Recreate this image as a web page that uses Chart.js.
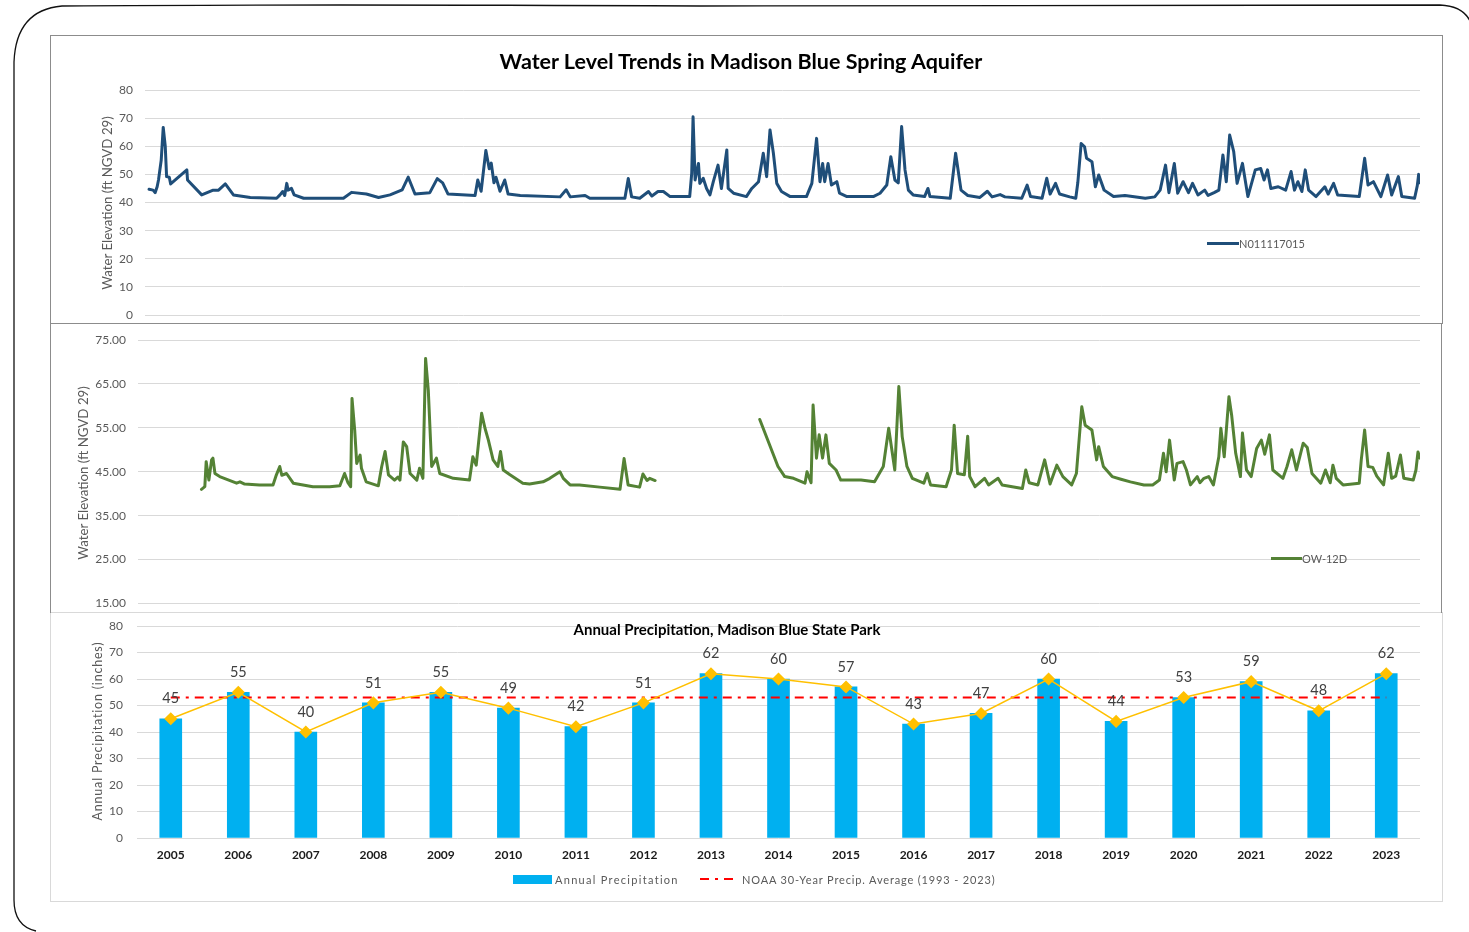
<!DOCTYPE html>
<html>
<head>
<meta charset="utf-8">
<script src="https://cdn.jsdelivr.net/npm/chart.js@4.4.1/dist/chart.umd.min.js"></script>
<style>
  html,body{margin:0;padding:0;background:#fff;}
  body{width:1469px;height:932px;position:relative;overflow:hidden;font-family:Lato,"Open Sans",sans-serif;}
  canvas{position:absolute;}
  .border{position:absolute;box-sizing:border-box;pointer-events:none;}
  .txt{position:absolute;white-space:nowrap;}
  .ytitle{position:absolute;white-space:nowrap;color:#595959;transform:translate(-50%,-50%) rotate(-90deg);}
  .leg{position:absolute;display:flex;align-items:center;font-size:11px;color:#595959;white-space:nowrap;}
</style>
</head>
<body>
<svg width="1469" height="932" style="position:absolute;left:0;top:0;">
  <path d="M 36 931 Q 14 926 14 900 L 14 62 Q 16 10 62 6 Q 300 4 700 6 Q 1100 7 1440 5 Q 1466 6 1472 26" fill="none" stroke="#111" stroke-width="1.3"/>
</svg>

<canvas id="c3" width="1392" height="289" style="left:50px;top:612px;"></canvas>
<canvas id="c2" width="1392" height="289" style="left:50px;top:323px;"></canvas>
<canvas id="c1" width="1392" height="288" style="left:50px;top:35px;"></canvas>

<div class="border" style="left:50px;top:612px;width:1393px;height:290px;border:1px solid #d9d9d9;"></div>
<div class="border" style="left:50px;top:323px;width:1392px;height:290px;border:1px solid #8c8c8c;border-bottom:none;"></div>
<div class="border" style="left:50px;top:35px;width:1393px;height:289px;border:1px solid #8c8c8c;"></div>

<div class="txt" style="left:741px;top:61px;transform:translate(-50%,-50%);font-weight:bold;font-size:21.5px;color:#000;">Water Level Trends in Madison Blue Spring Aquifer</div>
<div class="txt" style="left:727px;top:629px;transform:translate(-50%,-50%);font-weight:bold;font-size:15px;color:#000;">Annual Precipitation, Madison Blue State Park</div>

<div class="ytitle" style="left:107px;top:203px;font-size:13.3px;">Water Elevation (ft NGVD 29)</div>
<div class="ytitle" style="left:83px;top:473px;font-size:13.3px;">Water Elevation (ft NGVD 29)</div>
<div class="ytitle" style="left:97px;top:731px;font-size:12.5px;letter-spacing:0.8px;">Annual Precipitation (inches)</div>

<div class="leg" style="left:1207px;top:235px;height:16px;"><span style="display:inline-block;width:32px;height:3px;background:#1F4E79;"></span><span>N011117015</span></div>
<div class="leg" style="left:1271px;top:550px;height:16px;"><span style="display:inline-block;width:31px;height:3px;background:#548235;"></span><span>OW-12D</span></div>
<div class="leg" style="left:513px;top:871px;height:16px;letter-spacing:1.3px;"><span style="display:inline-block;width:39px;height:9px;background:#00B0F0;margin-right:3px;"></span><span>Annual Precipitation</span></div>
<div class="leg" style="left:700px;top:871px;height:16px;letter-spacing:0.85px;"><svg width="36" height="4" style="margin-right:6px;"><line x1="0" y1="2" x2="36" y2="2" stroke="#FF0000" stroke-width="2" stroke-dasharray="9,6,3,6"/></svg><span>NOAA 30-Year Precip. Average (1993 - 2023)</span></div>

<script>
// ---------- Data: well N011117015 (decimal year, ft NGVD 29) ----------
const n011117015Dates = [2005.21,2005.27,2005.30,2005.33,2005.35,2005.39,2005.42,2005.45,2005.47,2005.51,2005.53,2005.77,2005.78,2005.99,2006.16,2006.24,2006.34,2006.46,2006.71,2007.10,2007.15,2007.19,2007.22,2007.25,2007.27,2007.32,2007.36,2007.50,2008.09,2008.21,2008.43,2008.61,2008.78,2008.96,2009.05,2009.15,2009.37,2009.48,2009.56,2009.64,2010.04,2010.08,2010.13,2010.20,2010.25,2010.28,2010.32,2010.35,2010.41,2010.48,2010.53,2010.71,2011.30,2011.39,2011.45,2011.67,2011.74,2012.26,2012.31,2012.36,2012.48,2012.61,2012.66,2012.75,2012.83,2012.93,2013.22,2013.25,2013.27,2013.30,2013.35,2013.37,2013.42,2013.47,2013.52,2013.57,2013.64,2013.69,2013.77,2013.79,2013.87,2014.06,2014.14,2014.24,2014.31,2014.36,2014.41,2014.46,2014.51,2014.58,2014.71,2014.95,2015.03,2015.10,2015.15,2015.19,2015.22,2015.27,2015.32,2015.40,2015.44,2015.55,2015.94,2016.04,2016.14,2016.20,2016.26,2016.31,2016.36,2016.41,2016.46,2016.53,2016.70,2016.75,2016.78,2017.08,2017.16,2017.24,2017.34,2017.52,2017.63,2017.70,2017.82,2017.89,2018.14,2018.22,2018.27,2018.44,2018.51,2018.56,2018.64,2018.70,2018.85,2018.94,2018.97,2019.02,2019.07,2019.10,2019.18,2019.23,2019.28,2019.36,2019.50,2019.67,2019.97,2020.11,2020.19,2020.27,2020.32,2020.40,2020.45,2020.53,2020.61,2020.67,2020.75,2020.85,2020.90,2020.99,2021.06,2021.12,2021.17,2021.22,2021.28,2021.33,2021.41,2021.49,2021.60,2021.68,2021.73,2021.78,2021.83,2021.94,2022.05,2022.13,2022.18,2022.23,2022.29,2022.34,2022.39,2022.50,2022.63,2022.68,2022.76,2022.82,2023.14,2023.22,2023.27,2023.35,2023.46,2023.56,2023.62,2023.72,2023.77,2023.96,2024.00,2024.02,2024.04];
const n011117015Levels = [44.7,44.4,43.5,45.6,48.0,55.0,66.7,60.0,49.2,49.0,46.6,51.6,48.0,42.7,44.4,44.4,46.6,42.7,41.8,41.5,42.7,43.9,42.5,46.8,44.4,45.0,42.7,41.5,41.5,43.6,43.0,41.8,42.7,44.5,49.0,43.0,43.5,48.5,47.0,43.0,42.5,48.0,44.0,58.5,52.0,54.0,47.0,49.0,44.0,48.0,43.0,42.5,42.0,44.5,42.0,42.5,41.5,41.5,48.5,42.0,41.5,43.9,42.3,43.9,43.9,42.1,42.1,50.4,70.5,48.0,53.9,46.8,48.6,45.0,42.7,47.4,53.3,45.0,58.7,45.0,43.3,42.1,45.0,47.4,57.5,49.2,65.8,57.5,46.8,43.9,42.1,42.1,46.8,62.8,47.4,53.9,47.4,53.9,46.2,47.4,43.3,42.1,42.1,43.3,46.2,56.3,48.0,47.0,67.0,51.6,44.4,42.7,42.1,45.0,42.1,41.5,57.5,44.4,42.5,41.8,44.0,42.0,42.8,42.0,41.5,46.2,42.1,41.5,48.6,43.0,46.8,43.0,42.0,41.5,47.0,61.0,59.8,55.7,54.5,45.6,49.8,44.4,42.1,42.5,41.5,42.0,44.4,53.3,43.5,53.9,43.3,47.4,43.5,46.8,42.7,44.4,42.5,43.5,44.4,56.9,47.4,64.0,58.1,46.8,53.9,42.1,51.6,52.1,48.0,51.6,45.0,45.6,44.4,51.0,44.4,47.4,43.9,51.6,44.4,42.1,45.6,43.0,46.8,42.7,42.1,55.7,46.2,47.4,42.1,49.8,42.7,49.2,42.1,41.5,46.0,50.0,47.0];

// ---------- Data: well OW-12D (decimal year, ft NGVD 29); null = no record ----------
const ow12dDates = [2005.99,2006.04,2006.06,2006.10,2006.14,2006.16,2006.19,2006.26,2006.51,2006.56,2006.63,2006.85,2007.05,2007.10,2007.15,2007.18,2007.25,2007.35,2007.64,2007.89,2008.04,2008.11,2008.16,2008.20,2008.22,2008.26,2008.29,2008.34,2008.36,2008.43,2008.61,2008.66,2008.71,2008.76,2008.85,2008.90,2008.93,2008.98,2009.03,2009.08,2009.18,2009.22,2009.27,2009.31,2009.35,2009.40,2009.47,2009.52,2009.72,2009.96,2010.01,2010.06,2010.14,2010.19,2010.24,2010.31,2010.38,2010.42,2010.46,2010.56,2010.75,2010.85,2011.05,2011.15,2011.30,2011.35,2011.45,2011.59,2011.89,2012.19,2012.25,2012.31,2012.48,2012.53,2012.59,2012.63,2012.71,2013.00,2014.26,2014.53,2014.63,2014.76,2014.93,2014.96,2015.02,2015.05,2015.10,2015.14,2015.19,2015.24,2015.29,2015.39,2015.46,2015.76,2015.96,2016.09,2016.17,2016.26,2016.32,2016.37,2016.44,2016.52,2016.69,2016.74,2016.79,2017.02,2017.10,2017.14,2017.19,2017.29,2017.34,2017.37,2017.45,2017.59,2017.65,2017.79,2017.85,2018.15,2018.20,2018.25,2018.38,2018.48,2018.56,2018.66,2018.75,2018.88,2018.95,2019.03,2019.08,2019.18,2019.25,2019.28,2019.35,2019.48,2019.61,2019.75,2019.95,2020.08,2020.18,2020.24,2020.28,2020.33,2020.40,2020.44,2020.53,2020.58,2020.64,2020.74,2020.78,2020.84,2020.91,2020.98,2021.06,2021.09,2021.14,2021.21,2021.25,2021.31,2021.38,2021.41,2021.47,2021.54,2021.62,2021.69,2021.74,2021.81,2021.86,2022.01,2022.07,2022.14,2022.21,2022.31,2022.37,2022.44,2022.57,2022.64,2022.71,2022.75,2022.80,2022.90,2023.14,2023.17,2023.22,2023.27,2023.34,2023.40,2023.50,2023.57,2023.62,2023.68,2023.75,2023.80,2023.94,2023.98,2024.01,2024.04];
const ow12dLevels = [41.0,41.6,47.3,43.1,47.7,48.1,44.6,43.9,42.4,42.7,42.2,42.0,42.0,44.3,46.2,44.2,44.6,42.4,41.6,41.6,41.8,44.6,42.5,41.6,61.7,54.5,46.9,48.8,45.8,42.7,41.8,46.2,49.6,44.3,43.1,43.8,43.1,51.8,50.7,44.6,43.1,45.8,43.5,70.8,63.6,46.2,48.1,44.6,43.5,43.1,48.4,46.5,58.3,54.9,52.2,47.7,46.2,49.6,45.4,44.3,42.4,42.2,42.7,43.5,45.0,43.5,42.0,42.0,41.5,41.0,48.0,42.0,41.5,44.5,43.0,43.5,43.0,null,56.9,46.2,43.9,43.5,42.4,45.0,42.5,60.2,48.1,53.4,48.1,53.4,46.9,45.4,43.1,43.1,42.7,46.2,54.9,45.4,64.4,53.0,46.2,43.5,42.4,44.6,42.0,41.6,45.4,55.6,44.6,44.3,53.1,43.9,41.6,43.5,42.0,43.5,42.0,41.2,45.4,42.5,42.0,47.7,42.2,46.5,43.9,42.0,44.6,59.8,55.6,54.5,47.7,50.7,46.2,43.9,43.3,42.7,42.0,42.0,43.1,49.2,45.0,52.2,43.1,46.9,47.3,45.4,42.0,43.9,42.5,43.5,43.9,42.0,48.4,54.9,48.4,62.1,57.9,49.2,43.9,53.8,45.4,43.9,50.3,52.2,49.0,53.4,45.4,43.5,46.2,50.0,45.4,51.5,50.5,44.6,42.4,45.4,42.5,46.5,43.5,42.0,42.4,47.7,54.5,46.2,46.0,44.0,42.0,49.2,43.5,44.0,48.8,43.5,43.1,45.4,49.5,48.1];

// ---------- Data: annual precipitation ----------
const precipYears = ['2005','2006','2007','2008','2009','2010','2011','2012','2013','2014','2015','2016','2017','2018','2019','2020','2021','2022','2023'];
const precipInches = [45,55,40,51,55,49,42,51,62,60,57,43,47,60,44,53,59,48,62];
const noaa30YearAvg = [53,53,53,53,53,53,53,53,53,53,53,53,53,53,53,53,53,53,53];

// ---------- tick settings ----------
const elevTicks1 = {min:0, max:80, step:10};
const elevTicks2 = {min:15, max:75, step:10};
const precipTicks = {min:0, max:80, step:10};

const FONT = 'Lato';
Chart.defaults.font.family = FONT;
Chart.defaults.color = '#595959';

function pairs(xs, ys){ return xs.map((x,i)=>({x:x, y:ys[i]})); }

const commonPlugins = {legend:{display:false}, tooltip:{enabled:false}, title:{display:false}};
function yGrid(gap){ return {color:'#d9d9d9', drawTicks:true, tickLength:gap, tickColor:'rgba(0,0,0,0)'}; }

// Chart 1
new Chart(document.getElementById('c1'), {
  type:'line',
  data:{datasets:[{label:'N011117015', data:pairs(n011117015Dates, n011117015Levels), borderColor:'#1F4E79', borderWidth:3, pointRadius:0, tension:0, borderJoinStyle:'round', borderCapStyle:'round'}]},
  options:{
    responsive:false, animation:false, events:[],
    plugins:commonPlugins,
    layout:{padding:{left:0, right:22, top:55, bottom:8}},
    scales:{
      x:{type:'linear', min:2005.15, max:2024.04, display:false},
      y:{min:elevTicks1.min, max:elevTicks1.max,
         ticks:{stepSize:elevTicks1.step, color:'#595959', font:{size:12}, padding:0},
         grid:yGrid(12), border:{display:false},
         afterFit(s){ s.width = 95; }}
    }
  }
});

// Chart 2
new Chart(document.getElementById('c2'), {
  type:'line',
  data:{datasets:[{label:'OW-12D', data:pairs(ow12dDates, ow12dLevels), borderColor:'#548235', borderWidth:3, pointRadius:0, tension:0, spanGaps:false, borderJoinStyle:'round', borderCapStyle:'round'}]},
  options:{
    responsive:false, animation:false, events:[],
    plugins:commonPlugins,
    layout:{padding:{left:0, right:22, top:17, bottom:8.5}},
    scales:{
      x:{type:'linear', min:2005.05, max:2024.04, display:false},
      y:{min:elevTicks2.min, max:elevTicks2.max,
         ticks:{stepSize:elevTicks2.step, color:'#595959', font:{size:12}, padding:0, callback:(v)=>Number(v).toFixed(2)},
         grid:yGrid(12), border:{display:false},
         afterFit(s){ s.width = 88; }}
    }
  }
});

// Chart 3
const valueLabels = {
  id:'valueLabels',
  afterDatasetsDraw(chart){
    const meta = chart.getDatasetMeta(1);
    const ctx = chart.ctx;
    ctx.save();
    ctx.font = '14.5px ' + FONT;
    ctx.fillStyle = '#404040';
    ctx.textAlign = 'center';
    ctx.textBaseline = 'middle';
    meta.data.forEach((pt,i)=>{ ctx.fillText(String(precipInches[i]), pt.x, pt.y - 20); });
    ctx.restore();
  }
};
new Chart(document.getElementById('c3'), {
  type:'bar',
  data:{
    labels:precipYears,
    datasets:[
      {type:'bar', label:'Annual Precipitation', data:precipInches, backgroundColor:'#00B0F0', barThickness:22, order:3},
      {type:'line', label:'Precipitation trend', data:precipInches, borderColor:'#FFC000', borderWidth:1.5, pointStyle:'rectRot', pointRadius:5.5, pointBackgroundColor:'#FFC000', pointBorderColor:'#FFC000', tension:0, order:1},
      {type:'line', label:'NOAA 30-Year Precip. Average (1993 - 2023)', data:noaa30YearAvg, borderColor:'#FF0000', borderWidth:2, borderDash:[9,6,3,6], pointRadius:0, tension:0, order:2}
    ]
  },
  options:{
    responsive:false, animation:false, events:[],
    plugins:commonPlugins,
    layout:{padding:{left:0, right:22, top:14, bottom:33}},
    scales:{
      x:{grid:{display:false, drawTicks:false}, border:{display:false},
         ticks:{color:'#1a1a1a', font:{size:12, weight:'bold'}, padding:10, maxRotation:0, autoSkip:false},
         afterFit(s){ s.height = 30; }},
      y:{min:precipTicks.min, max:precipTicks.max,
         ticks:{stepSize:precipTicks.step, color:'#595959', font:{size:12}, padding:0},
         grid:yGrid(14), border:{display:false},
         afterFit(s){ s.width = 87; }}
    }
  },
  plugins:[valueLabels]
});
</script>
</body>
</html>
